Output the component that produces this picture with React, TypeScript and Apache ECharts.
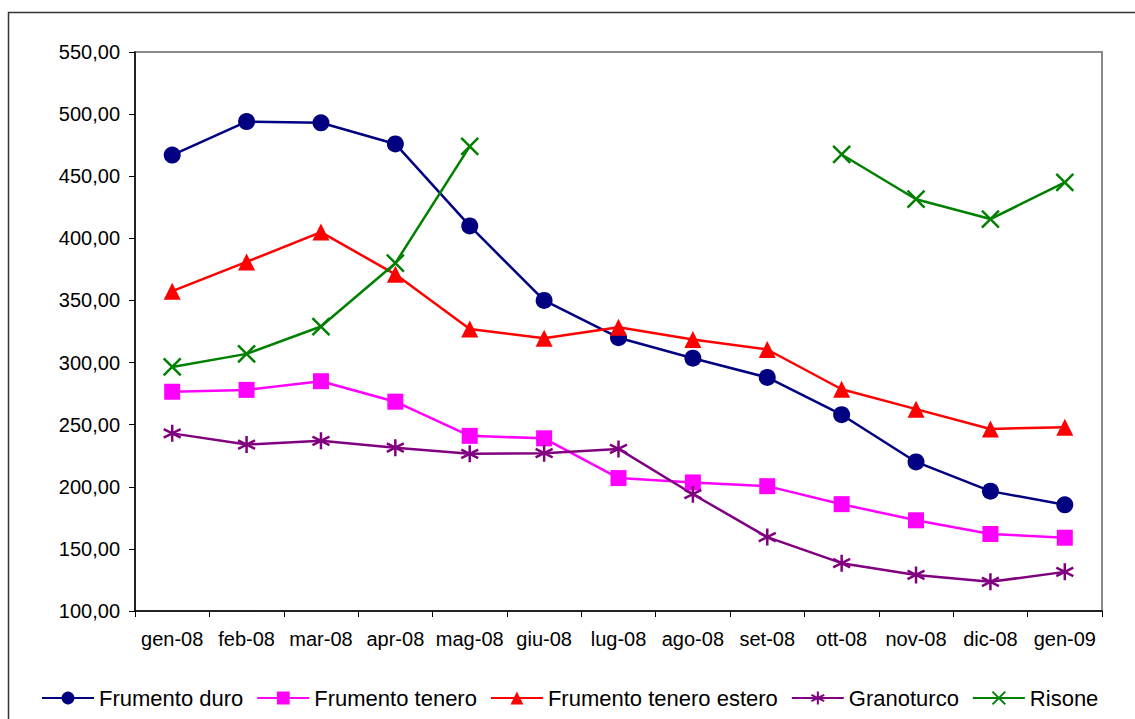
import React, { useEffect, useRef } from "react";
import * as echarts from "echarts";

const months = [
  "gen-08", "feb-08", "mar-08", "apr-08", "mag-08", "giu-08", "lug-08",
  "ago-08", "set-08", "ott-08", "nov-08", "dic-08", "gen-09",
];

const frumentoDuro = [467, 494, 493, 476, 410, 350, 320, 303.5, 288, 258, 220, 196.5, 185.5];
const frumentoTenero = [276.5, 278, 285, 268.5, 241, 239, 207, 203.5, 200.5, 186, 173, 162, 159];
const frumentoTeneroEstero = [357.5, 381, 405, 371, 327, 319.5, 328.5, 318.5, 310.5, 278.5, 262.5, 246.5, 248];
const granoturco = [243, 234, 237, 231.5, 226.5, 227, 230.5, 194, 159.5, 138.5, 129, 123.5, 131.5];
const risone = [296.5, 307, 329, 380, 474, null, null, null, null, 467.5, 431.5, 415.5, 445];

const asterisk = "path://M10,0 L10,20 M1.34,5 L18.66,15 M1.34,15 L18.66,5";
const cross = "path://M2,2 L18,18 M2,18 L18,2";

const fmt = (v: number) => v.toFixed(2).replace(".", ",");

export default function App() {
  const chartRef = useRef<HTMLDivElement>(null);

  useEffect(() => {
    if (!chartRef.current) return;
    const chart = echarts.init(chartRef.current, undefined, { renderer: "svg" });

    const makeSeries = (
      name: string,
      data: (number | null)[],
      color: string,
      symbol: string,
      symbolSize: number,
      stroked = false
    ) => ({
      name,
      type: "line" as const,
      data,
      symbol,
      symbolSize,
      showAllSymbol: true,
      lineStyle: { color, width: 2.5 },
      itemStyle: stroked
        ? { color: "rgba(0,0,0,0)", borderColor: color, borderWidth: 2.5 }
        : { color, borderColor: color, borderWidth: 0 },
      emphasis: { disabled: true },
    });

    chart.setOption({
      animation: false,
      textStyle: { fontFamily: "Liberation Sans, Arial, sans-serif" },
      graphic: [
        {
          type: "rect",
          shape: { x: 8.5, y: 12.5, width: 1200, height: 800 },
          style: { fill: "none", stroke: "#333", lineWidth: 1.5 },
          silent: true,
          z: -10,
        },
      ],
      grid: {
        left: 135,
        right: 33,
        top: 52,
        bottom: 108,
        show: true,
        borderColor: "#8a8a8a",
        borderWidth: 2,
      },
      legend: {
        left: 36,
        top: 682,
        itemWidth: 52,
        itemHeight: 16,
        itemGap: 13,
        textStyle: { fontSize: 22, color: "#000" },
        data: ["Frumento duro", "Frumento tenero", "Frumento tenero estero", "Granoturco", "Risone"],
      },
      xAxis: {
        type: "category",
        data: months,
        boundaryGap: true,
        axisLine: { lineStyle: { color: "#000", width: 1.5 } },
        axisTick: { show: true, length: 6, interval: 0, lineStyle: { color: "#000" } },
        axisLabel: { interval: 0, fontSize: 20, color: "#000", margin: 18 },
        splitLine: { show: false },
      },
      yAxis: {
        type: "value",
        min: 100,
        max: 550,
        interval: 50,
        axisLine: { show: true, lineStyle: { color: "#000", width: 1.5 } },
        axisTick: { show: true, length: 6, lineStyle: { color: "#000" } },
        axisLabel: { fontSize: 20, color: "#000", margin: 15, formatter: fmt },
        splitLine: { show: false },
      },
      series: [
        makeSeries("Frumento duro", frumentoDuro, "#000080", "circle", 17),
        makeSeries("Frumento tenero", frumentoTenero, "#FF00FF", "rect", 16),
        makeSeries("Frumento tenero estero", frumentoTeneroEstero, "#FF0000", "triangle", 17),
        makeSeries("Granoturco", granoturco, "#800080", asterisk, 17, true),
        makeSeries("Risone", risone, "#008000", cross, 17, true),
      ],
    });

    return () => chart.dispose();
  }, []);

  return (
    <div
      ref={chartRef}
      style={{ position: "fixed", left: 0, top: 0, width: 1135, height: 719, background: "#fff" }}
    />
  );
}
